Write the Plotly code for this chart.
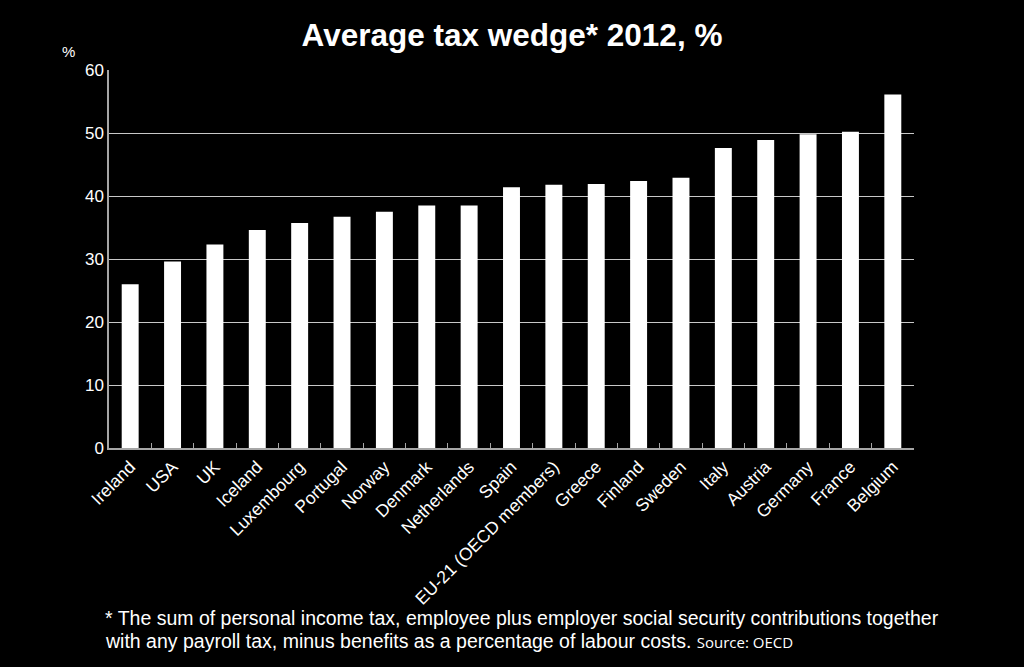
import plotly.graph_objects as go

countries = ["Ireland", "USA", "UK", "Iceland", "Luxembourg", "Portugal", "Norway",
             "Denmark", "Netherlands", "Spain", "EU-21 (OECD members)", "Greece",
             "Finland", "Sweden", "Italy", "Austria", "Germany", "France", "Belgium"]
tax_wedge = [26.0, 29.6, 32.3, 34.6, 35.7, 36.7, 37.5, 38.5, 38.5, 41.4, 41.8, 41.9,
             42.4, 42.9, 47.6, 48.9, 49.8, 50.2, 56.1]
y_ticks = [0, 10, 20, 30, 40, 50, 60]

title_text = "Average tax wedge* 2012, %"
note_line1 = "* The sum of personal income tax, employee plus employer social security contributions together"
note_line2 = "with any payroll tax, minus benefits as a percentage of labour costs."
source_text = "Source: OECD"

fig = go.Figure(go.Bar(x=countries, y=tax_wedge, marker=dict(color="white", line=dict(width=0))))

W, H = 1024, 667
L, R, T, B = 109, 110, 70, 219
ph = H - T - B
pw = W - L - R

def px_to_paper_y(py):
    return (H - B - py) / ph

def px_to_paper_x(px):
    return (px - L) / pw

fig.update_layout(
    width=W, height=H,
    margin=dict(l=L, r=R, t=T, b=B),
    paper_bgcolor="black", plot_bgcolor="black",
    bargap=0.6,
    showlegend=False,
    font=dict(family="Liberation Sans, Arial, sans-serif", color="white"),
    title=dict(text="<b>" + title_text + "</b>", x=0.5, xanchor="center", y=1 - 35 / H, yanchor="middle",
               font=dict(size=31.5, color="white", family="Liberation Sans, Arial, sans-serif")),
    xaxis=dict(
        tickangle=-45, tickfont=dict(size=17.5, color="white"),
        showline=True, linecolor="#a6a6a6", linewidth=1.5,
        ticks="inside", tickson="boundaries", ticklen=5, tickcolor="#a6a6a6",
        showgrid=False, range=[-0.5, len(countries) - 0.5],
    ),
    yaxis=dict(
        range=[0, 60], tickvals=y_ticks, tickfont=dict(size=17, color="white"),
        showline=True, linecolor="#a6a6a6", linewidth=1.5,
        showgrid=True, gridcolor="#c8c8c8", gridwidth=1, zeroline=False,
        ticks="", ticklen=0,
    ),
    annotations=[
        dict(text="%", xref="paper", yref="paper", x=px_to_paper_x(68), y=px_to_paper_y(52),
             xanchor="center", yanchor="middle", showarrow=False, font=dict(size=15, color="white")),
        dict(text=note_line1, xref="paper", yref="paper", x=px_to_paper_x(103), y=px_to_paper_y(618),
             xanchor="left", yanchor="middle", showarrow=False,
             font=dict(size=19.5, color="white", family="Liberation Sans Narrow, Arial Narrow, Liberation Sans, sans-serif")),
        dict(text=note_line2 + " <span style='font-family:Open Sans, Carlito, sans-serif; font-size:15px'>" + source_text + "</span>",
             xref="paper", yref="paper", x=px_to_paper_x(103), y=px_to_paper_y(641),
             xanchor="left", yanchor="middle", showarrow=False,
             font=dict(size=19.5, color="white", family="Liberation Sans Narrow, Arial Narrow, Liberation Sans, sans-serif")),
    ],
)

fig.write_html("out.html", config={"displayModeBar": False},
               post_script="document.body.style.margin='0px';document.body.style.background='black';")
